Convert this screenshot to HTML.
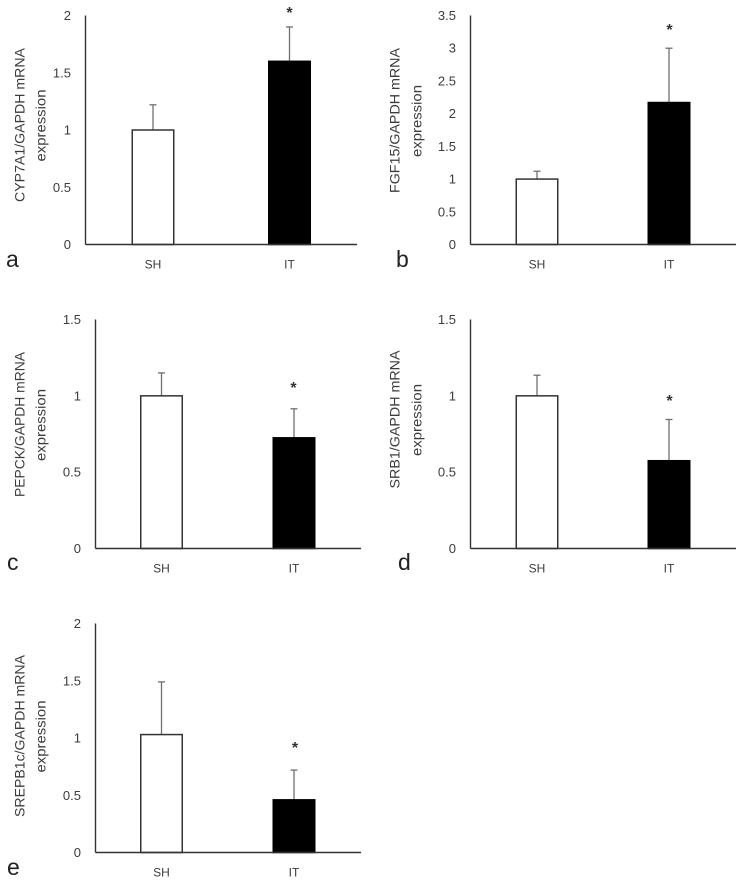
<!DOCTYPE html>
<html lang="en">
<head>
<meta charset="utf-8">
<title>mRNA expression bar charts</title>
<style>
  html, body { margin: 0; padding: 0; background: #ffffff; }
  svg { display: block; font-family: "Liberation Sans", sans-serif; }
</style>
</head>
<body>
<svg id="figure" width="741" height="884" viewBox="0 0 741 884" xmlns="http://www.w3.org/2000/svg"></svg>
<script>
const categories = ['SH', 'IT'];

const valuesA = [1, 1.6];
const errorTopsA = [1.22, 1.9];
const ticksA = ['0', '0.5', '1', '1.5', '2'];

const valuesB = [1, 2.17];
const errorTopsB = [1.12, 3];
const ticksB = ['0', '0.5', '1', '1.5', '2', '2.5', '3', '3.5'];

const valuesC = [1, 0.725];
const errorTopsC = [1.15, 0.915];
const ticksC = ['0', '0.5', '1', '1.5'];

const valuesD = [1, 0.575];
const errorTopsD = [1.135, 0.845];
const ticksD = ['0', '0.5', '1', '1.5'];

const valuesE = [1.03, 0.46];
const errorTopsE = [1.49, 0.72];
const ticksE = ['0', '0.5', '1', '1.5', '2'];

const panels = [
  { id: 'a', gene: 'CYP7A1/GAPDH mRNA', values: valuesA, tops: errorTopsA, ticks: ticksA,
    left: 85.5, right: 357, top: 15.5, bottom: 244.5, centers: [153, 289.5], star: 289.5, starY: 18,
    tickX: 71, t1: 20, t2: 41, tc: 125, tw: 154, letterX: 6, letterY: 267 },
  { id: 'b', gene: 'FGF15/GAPDH mRNA', values: valuesB, tops: errorTopsB, ticks: ticksB,
    left: 470.5, right: 736, top: 15.5, bottom: 244.5, centers: [537, 669], star: 669.5, starY: 35,
    tickX: 456, t1: 395, t2: 417, tc: 120.5, tw: 145, letterX: 396, letterY: 267 },
  { id: 'c', gene: 'PEPCK/GAPDH mRNA', values: valuesC, tops: errorTopsC, ticks: ticksC,
    left: 95.5, right: 361, top: 319.5, bottom: 548.5, centers: [161.5, 294], star: 293.5, starY: 393,
    tickX: 81, t1: 20, t2: 41, tc: 424.5, tw: 145, letterX: 7, letterY: 570 },
  { id: 'd', gene: 'SRB1/GAPDH mRNA', values: valuesD, tops: errorTopsD, ticks: ticksD,
    left: 470.5, right: 736, top: 319.5, bottom: 548.5, centers: [537, 669], star: 669.5, starY: 406,
    tickX: 456, t1: 395, t2: 417, tc: 419.5, tw: 138, letterX: 398, letterY: 570 },
  { id: 'e', gene: 'SREPB1c/GAPDH mRNA', values: valuesE, tops: errorTopsE, ticks: ticksE,
    left: 95.5, right: 361, top: 623.5, bottom: 852.5, centers: [161.5, 294], star: 295, starY: 753,
    tickX: 81, t1: 20, t2: 41, tc: 736, tw: 162, letterX: 7, letterY: 875 }
];

const figure = document.getElementById('figure');
const NS = 'http://www.w3.org/2000/svg';
const BAR_W = 41.5;

function make(parent, tag, attrs, text) {
  const node = document.createElementNS(NS, tag);
  for (const k in attrs) node.setAttribute(k, attrs[k]);
  if (text !== undefined) node.textContent = text;
  parent.appendChild(node);
  return node;
}

panels.forEach(function (p) {
  const yMax = Math.max.apply(null, p.ticks.map(Number));
  const y = function (v) { return p.bottom - (v / yMax) * (p.bottom - p.top); };

  const g = make(figure, 'g', {});
  
  

  // error bars sit behind the bars
  categories.forEach(function (cat, i) {
    const cx = p.centers[i];
    const stem = make(g, 'line', { x1: cx, x2: cx, y1: y(p.values[i]), y2: y(p.tops[i]), stroke: '#6f6f6f', 'stroke-width': 1.3 });
    
    
    const cap = make(g, 'line', { x1: cx - 3.5, x2: cx + 3.5, y1: y(p.tops[i]), y2: y(p.tops[i]), stroke: '#6f6f6f', 'stroke-width': 1.3 });
    
    
  });

  categories.forEach(function (cat, i) {
    const cx = p.centers[i];
    const bar = make(g, 'rect', {
      x: cx - BAR_W / 2, y: y(p.values[i]), width: BAR_W, height: p.bottom - y(p.values[i]),
      fill: i === 0 ? '#ffffff' : '#000000', stroke: i === 0 ? '#333333' : '#000000', 'stroke-width': 1.5
    });
    
    

    const label = make(g, 'text', { x: cx, y: p.bottom + 24, 'text-anchor': 'middle', 'font-size': 12, fill: '#3c3c3c' }, cat);
    
    
  });

  const yAxis = make(g, 'line', { x1: p.left, x2: p.left, y1: p.top, y2: p.bottom, stroke: '#333333', 'stroke-width': 1.4 });
  
  

  const xAxis = make(g, 'line', { x1: p.left, x2: p.right, y1: p.bottom, y2: p.bottom, stroke: '#333333', 'stroke-width': 1.4 });
  
  

  p.ticks.forEach(function (t) {
    const tick = make(g, 'text', { x: p.tickX, y: y(Number(t)) + 4.5, 'text-anchor': 'end', 'font-size': 13, fill: '#3c3c3c' }, t);
    
    
  });

  const title1 = make(g, 'text', {
    transform: 'translate(' + (p.t1 + 4.5) + ',' + p.tc + ') rotate(-90)', 'text-anchor': 'middle',
    'font-size': 13.5, fill: '#3c3c3c', textLength: p.tw, lengthAdjust: 'spacingAndGlyphs'
  }, p.gene);
  
  

  const title2 = make(g, 'text', {
    transform: 'translate(' + (p.t2 + 4.5) + ',' + (p.tc + 0.5) + ') rotate(-90)', 'text-anchor': 'middle',
    'font-size': 13.5, fill: '#3c3c3c', textLength: 72, lengthAdjust: 'spacingAndGlyphs'
  }, 'expression');
  
  

  const star = make(g, 'text', { x: p.star, y: p.starY, 'text-anchor': 'middle', 'font-size': 16, 'font-weight': 'bold', fill: '#333333' }, '*');
  
  

  const letter = make(g, 'text', { x: p.letterX, y: p.letterY, 'font-size': 23, fill: '#222222' }, p.id);
  
  
});
</script>
</body>
</html>
